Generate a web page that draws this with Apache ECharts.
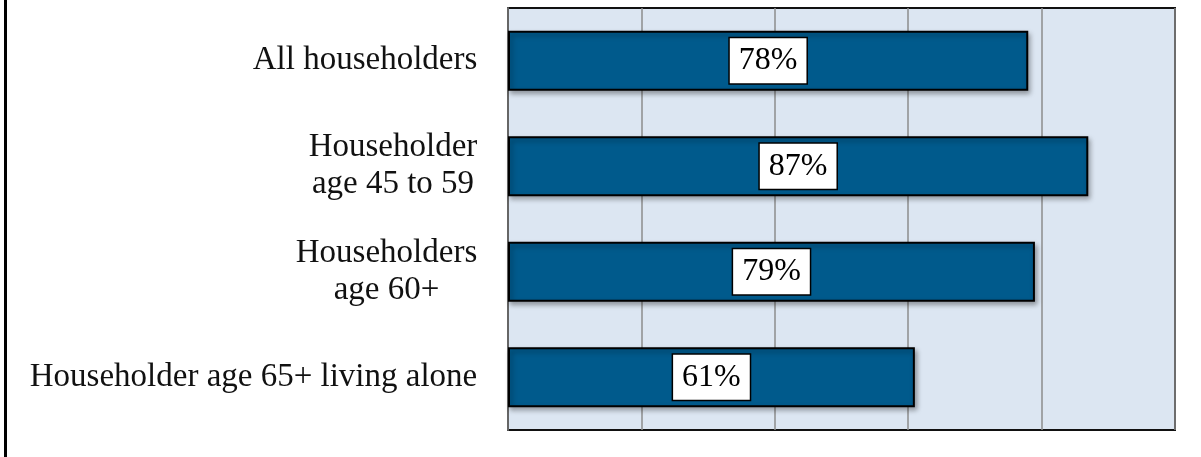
<!DOCTYPE html>
<html>
<head>
<meta charset="utf-8">
<script src="https://cdn.jsdelivr.net/npm/echarts@6/dist/echarts.min.js"></script>
<style>
  html, body { margin: 0; padding: 0; background: #fff; }
  #frame { position: absolute; left: 4px; top: 0; width: 1197px; height: 457px; border-left: 3px solid #000; box-sizing: border-box; }
  #chart { position: absolute; left: 0; top: 0; width: 1201px; height: 457px; }
</style>
</head>
<body>
<div id="frame"></div>
<div id="chart"></div>
<script>
// --- data ---
const categories = [
    'All householders',
    'Householder\nage 45 to 59',
    'Householders\nage 60+',
    'Householder age 65+ living alone'
];
const shares = [78, 87, 79, 61];   // percent
const xTicks = [0, 20, 40, 60, 80, 100];

const FONT = '"Liberation Serif", serif';
const CAT_SIZE = 33;
const LABEL_SIZE = 32;

// measure each label so two-line labels get centred lines
const measureCtx = document.createElement('canvas').getContext('2d');
measureCtx.font = CAT_SIZE + 'px ' + FONT;
const rich = {};
categories.forEach((c, i) => {
    const w = Math.max(...c.split('\n').map(l => measureCtx.measureText(l).width));
    rich['c' + i] = {
        width: Math.ceil(w) + 1,
        align: 'center',
        fontFamily: FONT,
        fontSize: CAT_SIZE,
        lineHeight: 37,
        color: '#111'
    };
});

const chart = echarts.init(document.getElementById('chart'), null, { renderer: 'canvas' });

chart.setOption({
    animation: false,
    backgroundColor: 'transparent',
    grid: {
        left: 508, right: 26, top: 8, bottom: 27,
        show: true,
        backgroundColor: '#dce6f2',
        borderColor: '#111',
        borderWidth: 2
    },
    xAxis: {
        type: 'value',
        min: xTicks[0],
        max: xTicks[xTicks.length - 1],
        interval: xTicks[1] - xTicks[0],
        axisLabel: { show: false },
        axisTick: { show: false },
        axisLine: { show: false },
        splitLine: { show: true, lineStyle: { color: '#8c8c8c', width: 1.5 } }
    },
    yAxis: {
        type: 'category',
        inverse: true,
        data: categories,
        axisTick: { show: false },
        axisLine: { show: true, lineStyle: { color: '#666', width: 2 } },
        axisLabel: {
            margin: 30,
            align: 'right',
            formatter: (value, idx) => value.split('\n').map(l => '{c' + idx + '|' + l + '}').join('\n'),
            rich: rich
        }
    },
    series: [{
        type: 'bar',
        data: shares,
        barWidth: 60,
        itemStyle: {
            color: '#005a8c',
            borderColor: '#000',
            borderWidth: 2,
            shadowColor: 'rgba(0,0,0,0.35)',
            shadowBlur: 5,
            shadowOffsetX: 2,
            shadowOffsetY: 3
        },
        label: {
            show: true,
            position: 'inside',
            formatter: '{c}%',
            fontFamily: FONT,
            fontSize: LABEL_SIZE,
            lineHeight: 32,
            color: '#000',
            backgroundColor: '#fff',
            borderColor: '#000',
            borderWidth: 1.5,
            padding: [8, 9, 5, 9]
        }
    }]
});
</script>
</body>
</html>
